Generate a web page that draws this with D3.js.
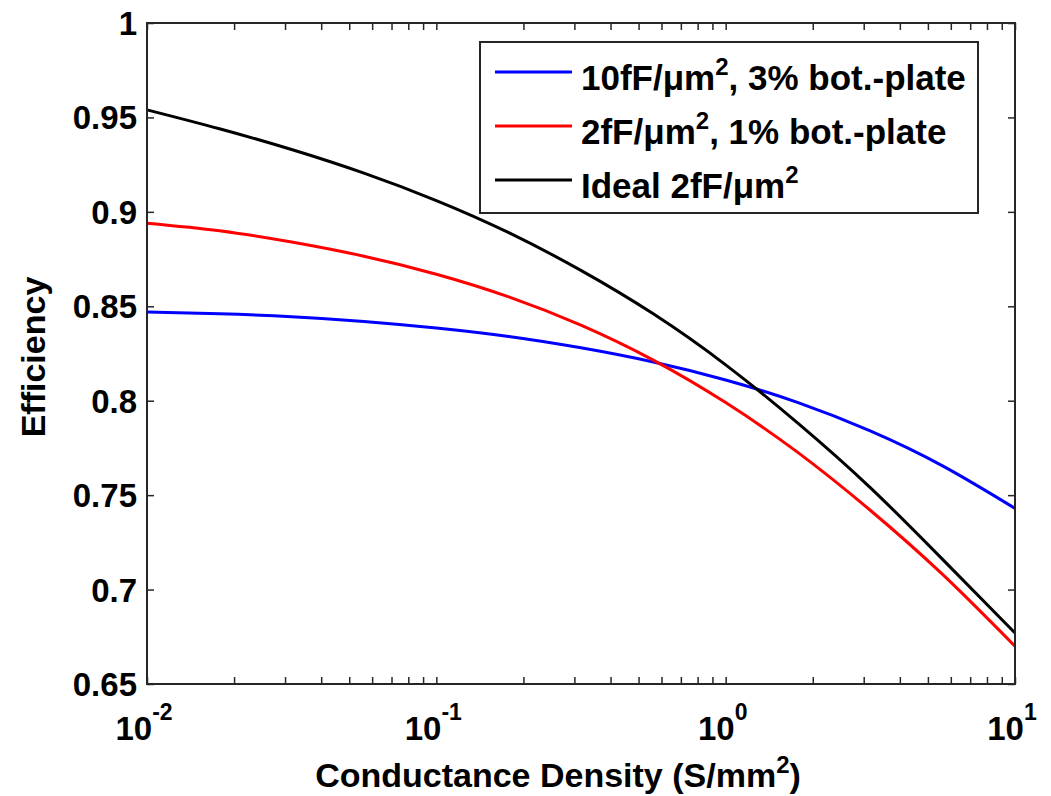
<!DOCTYPE html>
<html>
<head>
<meta charset="utf-8">
<script src="https://cdn.jsdelivr.net/npm/d3@7"></script>
<style>
  body { margin: 0; background: #fff; }
  text { font-family: "Liberation Sans", Arial, sans-serif; font-weight: bold; fill: #000; }
</style>
</head>
<body>
<svg id="chart1" width="1051" height="796"></svg>
<script>
// data (x = conductance density, S/mm^2)
var conductance = [0.01, 0.0178, 0.0316, 0.0562, 0.1, 0.178, 0.316, 0.562, 1, 1.78, 3.16, 5.62, 10];
var eff10fF = [0.847, 0.846, 0.8445, 0.842, 0.8385, 0.834, 0.828, 0.8205, 0.811, 0.799, 0.784, 0.7655, 0.743];
var eff2fF = [0.894, 0.890, 0.884, 0.8765, 0.867, 0.855, 0.840, 0.8215, 0.799, 0.7725, 0.742, 0.708, 0.670];
var effIdeal = [0.954, 0.944, 0.933, 0.9205, 0.906, 0.889, 0.869, 0.846, 0.819, 0.788, 0.754, 0.716, 0.677];
var yTicks = [0.65, 0.7, 0.75, 0.8, 0.85, 0.9, 0.95, 1];
var yTickLabels = ["0.65", "0.7", "0.75", "0.8", "0.85", "0.9", "0.95", "1"];
var xMajor = [0.01, 0.1, 1, 10];
var xMajorExp = ["-2", "-1", "0", "1"];

var series = [
  {name: ["10fF/\u03bcm", "2", ", 3% bot.-plate"], color: "#0000ff", values: eff10fF},
  {name: ["2fF/\u03bcm", "2", ", 1% bot.-plate"], color: "#ff0000", values: eff2fF},
  {name: ["Ideal 2fF/\u03bcm", "2", ""], color: "#000000", values: effIdeal}
];

var svg = d3.select("#chart1");
var pLeft = 147, pRight = 1015, pTop = 23, pBottom = 684;

var x = d3.scaleLog().domain([0.01, 10]).range([pLeft, pRight]);
var y = d3.scaleLinear().domain([0.65, 1]).range([pBottom, pTop]);

//ticks, inward on all four sides
var minorX = x.ticks();
var axisColor = "#262626";

function drawAxis(g) {
  g.selectAll(".domain").remove();
  g.selectAll("line").attr("stroke", axisColor).attr("stroke-width", 1.5);
}
svg.append("g").attr("transform", "translate(0," + pBottom + ")")
  .call(d3.axisBottom(x).tickValues(minorX).tickSize(-7).tickFormat("")).call(drawAxis);
svg.append("g").attr("transform", "translate(0," + pTop + ")")
  .call(d3.axisTop(x).tickValues(minorX).tickSize(-7).tickFormat("")).call(drawAxis);
svg.append("g").attr("transform", "translate(" + pLeft + ",0)")
  .call(d3.axisLeft(y).tickValues(yTicks).tickSize(-7).tickFormat("")).call(drawAxis);
svg.append("g").attr("transform", "translate(" + pRight + ",0)")
  .call(d3.axisRight(y).tickValues(yTicks).tickSize(-7).tickFormat("")).call(drawAxis);

//lines
var line = d3.line()
  .x(function(d) { return x(d[0]); })
  .y(function(d) { return y(d[1]); })
  .curve(d3.curveNatural);

series.forEach(function(s) {
  svg.append("path")
    .datum(conductance.map(function(c, i) { return [c, s.values[i]]; }))
    .attr("fill", "none")
    .attr("stroke", s.color)
    .attr("stroke-width", 3)
    .attr("d", line);
});

//box
svg.append("rect")
  .attr("x", pLeft).attr("y", pTop)
  .attr("width", pRight - pLeft).attr("height", pBottom - pTop)
  .attr("fill", "none").attr("stroke", axisColor).attr("stroke-width", 2);

//y tick labels
svg.selectAll(".ylab").data(yTicks).enter().append("text")
  .attr("class", "ylab")
  .attr("x", pLeft - 10)
  .attr("y", function(d) { return y(d) + 12; })
  .attr("text-anchor", "end")
  .style("font-size", "33px")
  .text(function(d, i) { return yTickLabels[i]; });

//x tick labels, 10 with superscript
var xl = svg.selectAll(".xlab").data(xMajor).enter().append("text")
  .attr("class", "xlab")
  .attr("x", function(d) { return x(d) - 3; })
  .attr("y", 740)
  .attr("text-anchor", "middle")
  .style("font-size", "33px");
xl.append("tspan").text("10");
xl.append("tspan").attr("dy", -20).style("font-size", "23px")
  .text(function(d, i) { return xMajorExp[i]; });

//axis titles
var xt = svg.append("text")
  .attr("x", 558).attr("y", 787)
  .attr("text-anchor", "middle")
  .style("font-size", "34px");
xt.append("tspan").text("Conductance Density (S/mm");
xt.append("tspan").attr("dy", -14).style("font-size", "24px").text("2");
xt.append("tspan").attr("dy", 14).text(")");

svg.append("text")
  .attr("transform", "translate(45,357) rotate(-90)")
  .attr("text-anchor", "middle")
  .style("font-size", "34px")
  .text("Efficiency");

//legend
svg.append("rect")
  .attr("x", 480).attr("y", 42)
  .attr("width", 498).attr("height", 171)
  .attr("fill", "#fff").attr("stroke", axisColor).attr("stroke-width", 2);

series.forEach(function(s, i) {
  var ly = 72 + i * 54;
  svg.append("line")
    .attr("x1", 495).attr("x2", 572)
    .attr("y1", ly).attr("y2", ly)
    .attr("stroke", s.color).attr("stroke-width", 3);
  var t = svg.append("text")
    .attr("x", 581).attr("y", ly + 18)
    .style("font-size", "35px");
  t.append("tspan").text(s.name[0]);
  t.append("tspan").attr("dy", -15).style("font-size", "24px").text(s.name[1]);
  t.append("tspan").attr("dy", 15).text(s.name[2]);
});
</script>
</body>
</html>
